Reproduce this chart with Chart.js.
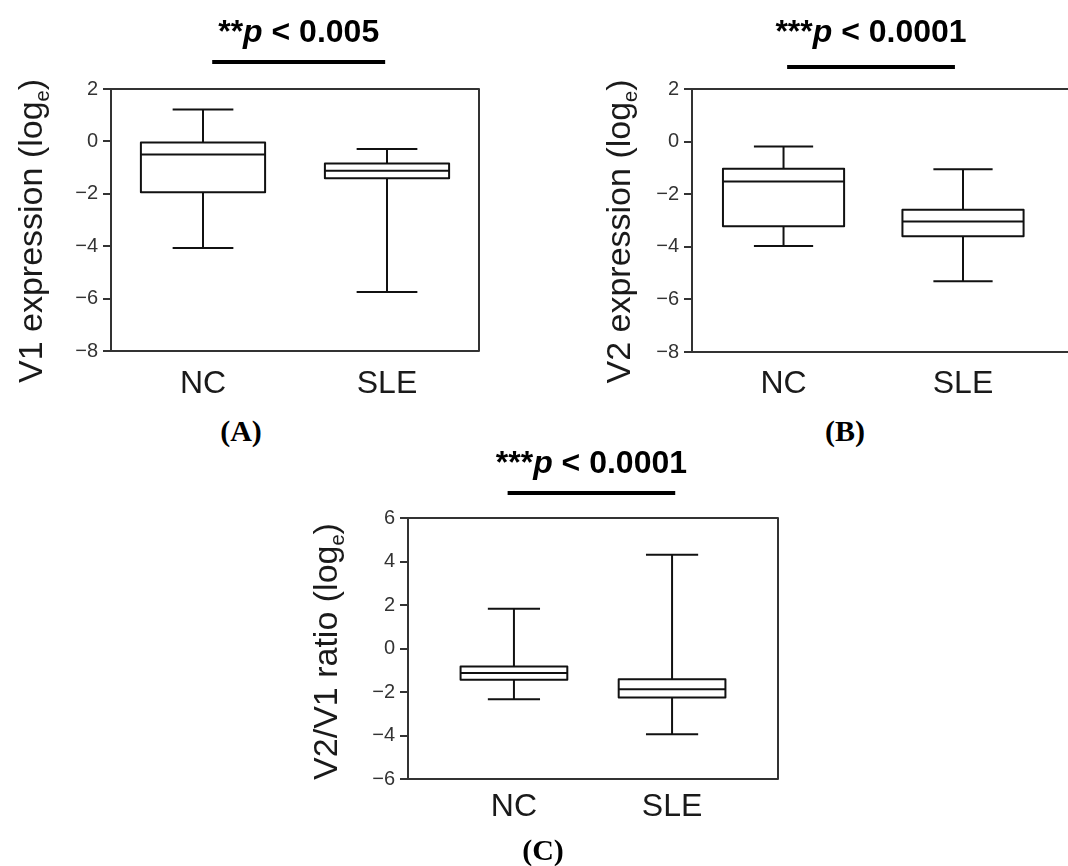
<!DOCTYPE html>
<html>
<head>
<meta charset="utf-8">
<title>V1 / V2 expression box plots</title>
<script src="https://cdn.jsdelivr.net/npm/chart.js@4.4.1/dist/chart.umd.min.js"></script>
<style>
    html, body { margin: 0; padding: 0; background: #fff; overflow: hidden; width: 1068px; height: 866px; }
    canvas { position: absolute; }
    .tag {
        position: absolute;
        font: bold 30px "Liberation Serif", "Times New Roman", serif;
        color: #000;
        transform: translate(-50%, -50%);
        white-space: nowrap;
    }
</style>
</head>
<body>
<canvas id="chart-a" width="500" height="410" style="left:0;top:0"></canvas>
<canvas id="chart-b" width="560" height="410" style="left:520px;top:0"></canvas>
<canvas id="chart-c" width="520" height="446" style="left:280px;top:420px"></canvas>
<div class="tag" style="left:241px;top:431px">(A)</div>
<div class="tag" style="left:845px;top:431px">(B)</div>
<div class="tag" style="left:543px;top:850px">(C)</div>

<script>
// Groups on the x axis
const groups = ['NC', 'SLE'];

// (A) V1 expression (log_e)
const v1Min = [-4.07, -5.75];
const v1Q1 = [-1.94, -1.41];
const v1Median = [-0.5, -1.12];
const v1Q3 = [-0.04, -0.84];
const v1Max = [1.22, -0.29];

// (B) V2 expression (log_e)
const v2Min = [-3.97, -5.31];
const v2Q1 = [-3.22, -3.6];
const v2Median = [-1.52, -3.04];
const v2Q3 = [-1.03, -2.59];
const v2Max = [-0.19, -1.05];

// (C) V2/V1 ratio (log_e)
const ratioMin = [-2.33, -3.94];
const ratioQ1 = [-1.44, -2.25];
const ratioMedian = [-1.13, -1.87];
const ratioQ3 = [-0.83, -1.41];
const ratioMax = [1.83, 4.31];

const SANS = '"Liberation Sans", Arial, sans-serif';
const BOX_W = 0.675;   // box width, in x units
const CAP_W = 0.33;    // whisker cap width, in x units

function minusFmt(v) {
    return v < 0 ? '\u2212' + Math.abs(v) : String(v);
}

// draws whiskers, boxes, frame, significance bar and y title
function boxPlugin(p) {
    return {
        id: 'boxes-' + p.id,
        afterDatasetsDraw(chart) {
            const { ctx, chartArea: a, scales: { x, y } } = chart;
            ctx.save();
            ctx.lineJoin = 'round';
            ctx.lineCap = 'butt';

            // frame
            ctx.strokeStyle = '#333';
            ctx.lineWidth = 2;
            ctx.strokeRect(a.left, a.top, a.width, a.height);

            ctx.strokeStyle = '#111';
            ctx.lineWidth = 2;
            const seg = (x1, y1, x2, y2) => {
                ctx.beginPath();
                ctx.moveTo(x1, y1);
                ctx.lineTo(x2, y2);
                ctx.stroke();
            };
            p.median.forEach((m, i) => {
                const cx = x.getPixelForValue(i + 1);
                const bl = x.getPixelForValue(i + 1 - BOX_W / 2);
                const br = x.getPixelForValue(i + 1 + BOX_W / 2);
                const cl = x.getPixelForValue(i + 1 - CAP_W / 2);
                const cr = x.getPixelForValue(i + 1 + CAP_W / 2);
                const yMax = y.getPixelForValue(p.max[i]);
                const yMin = y.getPixelForValue(p.min[i]);
                const yQ3 = y.getPixelForValue(p.q3[i]);
                const yQ1 = y.getPixelForValue(p.q1[i]);
                const yMed = y.getPixelForValue(m);

                seg(cx, yMax, cx, yQ3);
                seg(cx, yQ1, cx, yMin);
                seg(cl, yMax, cr, yMax);
                seg(cl, yMin, cr, yMin);

                ctx.fillStyle = '#fff';
                ctx.fillRect(bl, yQ3, br - bl, yQ1 - yQ3);
                ctx.strokeRect(bl, yQ3, br - bl, yQ1 - yQ3);
                seg(bl, yMed, br, yMed);
            });

            // significance bar + p value
            const b1 = x.getPixelForValue(p.bar[0]);
            const b2 = x.getPixelForValue(p.bar[1]);
            ctx.strokeStyle = '#000';
            ctx.lineWidth = 4;
            seg(b1, a.top - p.barDy, b2, a.top - p.barDy);

            const parts = [
                { t: p.stars, f: 'bold 32px ' + SANS },
                { t: 'p', f: 'italic bold 32px ' + SANS },
                { t: ' < ' + p.pValue, f: 'bold 32px ' + SANS }
            ];
            let total = 0;
            parts.forEach(s => { ctx.font = s.f; s.w = ctx.measureText(s.t).width; total += s.w; });
            let tx = (b1 + b2) / 2 - total / 2;
            ctx.fillStyle = '#000';
            ctx.textBaseline = 'alphabetic';
            ctx.textAlign = 'left';
            parts.forEach(s => { ctx.font = s.f; ctx.fillText(s.t, tx, a.top - p.textDy); tx += s.w; });

            // rotated y title with subscript e
            const tparts = [
                { t: p.yTitle, f: '34px ' + SANS, dy: 0 },
                { t: 'e', f: '20px ' + SANS, dy: 7 },
                { t: ')', f: '34px ' + SANS, dy: 0 }
            ];
            let tw = 0;
            tparts.forEach(s => { ctx.font = s.f; s.w = ctx.measureText(s.t).width; tw += s.w; });
            ctx.translate(a.left - p.titleDx, (a.top + a.bottom) / 2 + p.titleDy);
            ctx.rotate(-Math.PI / 2);
            ctx.fillStyle = '#1a1a1a';
            let sx = -tw / 2;
            tparts.forEach(s => { ctx.font = s.f; ctx.fillText(s.t, sx, s.dy); sx += s.w; });
            ctx.restore();
        }
    };
}

function makePanel(canvasId, p) {
    new Chart(document.getElementById(canvasId), {
        type: 'scatter',
        data: {
            datasets: [{
                data: p.median.map((m, i) => ({ x: i + 1, y: m })),
                pointRadius: 0,
                pointHoverRadius: 0
            }]
        },
        options: {
            responsive: false,
            animation: false,
            events: [],
            layout: { padding: p.padding },
            plugins: { legend: { display: false }, tooltip: { enabled: false } },
            scales: {
                x: {
                    type: 'linear',
                    min: p.xMin,
                    max: p.xMax,
                    afterBuildTicks: s => { s.ticks = groups.map((g, i) => ({ value: i + 1 })); },
                    afterFit: s => { s.height = p.xHeight; },
                    ticks: {
                        callback: v => groups[v - 1],
                        autoSkip: false,
                        maxRotation: 0,
                        color: '#1a1a1a',
                        padding: p.xPad,
                        font: { family: SANS, size: 32 }
                    },
                    grid: { display: false, drawTicks: false },
                    border: { display: false }
                },
                y: {
                    min: p.yMin,
                    max: p.yMax,
                    afterFit: s => { s.width = p.yWidth; },
                    ticks: {
                        stepSize: 2,
                        callback: minusFmt,
                        color: '#333',
                        padding: 5,
                        font: { family: SANS, size: 20 }
                    },
                    grid: {
                        display: true,
                        drawOnChartArea: false,
                        drawTicks: true,
                        tickLength: 8,
                        color: '#333',
                        lineWidth: 2
                    },
                    border: { display: false }
                }
            }
        },
        plugins: [boxPlugin(p)]
    });
}

makePanel('chart-a', {
    id: 'a',
    min: v1Min, q1: v1Q1, median: v1Median, q3: v1Q3, max: v1Max,
    yMin: -8, yMax: 2, xMin: 0.5, xMax: 2.5,
    yTitle: 'V1 expression (log',
    stars: '**', pValue: '0.005',
    bar: [1.05, 1.99], barDy: 27, textDy: 47,
    titleDx: 69, titleDy: 11,
    padding: { left: 0, top: 89, right: 21, bottom: 0 },
    yWidth: 111, xHeight: 59, xPad: 14
});

makePanel('chart-b', {
    id: 'b',
    min: v2Min, q1: v2Q1, median: v2Median, q3: v2Q3, max: v2Max,
    yMin: -8, yMax: 2, xMin: 0.49, xMax: 2.624,
    yTitle: 'V2 expression (log',
    stars: '***', pValue: '0.0001',
    bar: [1.02, 1.955], barDy: 22, textDy: 47,
    titleDx: 62, titleDy: 11,
    padding: { left: 0, top: 89, right: 5, bottom: 0 },
    yWidth: 172, xHeight: 58, xPad: 13
});

makePanel('chart-c', {
    id: 'c',
    min: ratioMin, q1: ratioQ1, median: ratioMedian, q3: ratioQ3, max: ratioMax,
    yMin: -6, yMax: 6, xMin: 0.33, xMax: 2.67,
    yTitle: 'V2/V1 ratio (log',
    stars: '***', pValue: '0.0001',
    bar: [0.96, 2.02], barDy: 25, textDy: 45,
    titleDx: 71, titleDy: 3,
    padding: { left: 0, top: 98, right: 22, bottom: 0 },
    yWidth: 128, xHeight: 87, xPad: 9
});
</script>
</body>
</html>
